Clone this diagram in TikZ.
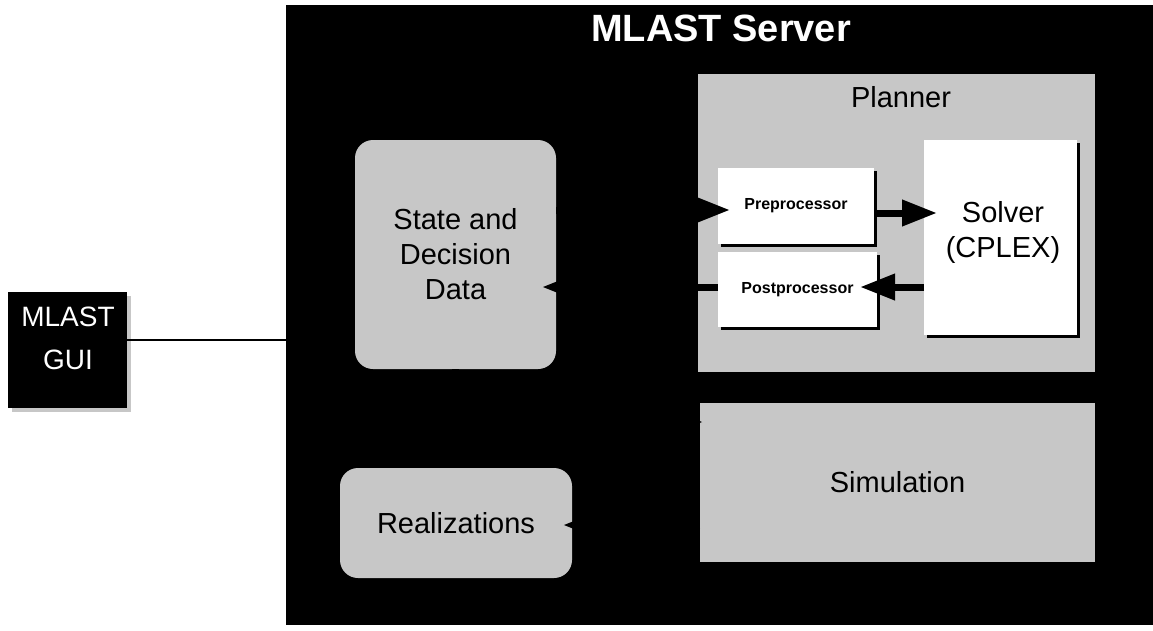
\documentclass[tikz,border=0pt]{standalone}
\usepackage{fontspec}
\setmainfont{Liberation Sans}
\usetikzlibrary{arrows.meta,shadows}
\definecolor{stip}{gray}{0.78}
\begin{document}
\begin{tikzpicture}[x=1pt,y=-1pt,
  box/.style={inner sep=0pt, outer sep=0pt, align=center},
  graybox/.style={box, fill=stip},
  roundbox/.style={graybox, rounded corners=18pt},
  whitebox/.style={box, fill=white, drop shadow={fill=black, opacity=1, shadow xshift=3pt, shadow yshift=-3pt}},
  bigtext/.style={font=\fontsize{29}{35}\selectfont},
  smalltext/.style={font=\bfseries\fontsize{16}{19}\selectfont},
  flow/.style={line width=7pt, -{Triangle[length=35pt,width=25pt]}},
  guiline/.style={line width=2.5pt},
]
\useasboundingbox (0,0) rectangle (1153,630);
\fill[white] (0,0) rectangle (1153,630);

% server background
\node[box, fill=black, minimum width=867pt, minimum height=620pt, anchor=north west] (server) at (286,5) {};
\node[box, text=white, font=\bfseries\fontsize{38}{45}\selectfont] (title) at (721,28) {MLAST Server};

% GUI
\node[box, fill=black, minimum width=119pt, minimum height=116pt,
      general shadow={fill=stip, shadow xshift=4pt, shadow yshift=-4pt}] (gui) at (67.5,350) {};
\node[box, text=white, font=\fontsize{28}{43}\selectfont] (guitext) at (68,338) {MLAST\\GUI};
\coordinate (g1) at ([yshift=10pt]gui.east);
\draw[guiline] (g1) -- (g1 -| server.west);

% Planner
\node[graybox, minimum width=397pt, minimum height=298pt] (planner) at (896.5,223) {};
\node[box, bigtext] (plannerlabel) at (901,97) {Planner};
\node[whitebox, smalltext, minimum width=156pt, minimum height=76pt] (pre) at (796,206) {Preprocessor};
\node[whitebox, smalltext, minimum width=159pt, minimum height=75pt] (post) at (797.5,289.5) {Postprocessor};
\node[whitebox, minimum width=153pt, minimum height=195pt] (solver) at (1000.5,237.5) {};
\node[box, bigtext] (solvertext) at (1003,232) {Solver\\(CPLEX)};

% Simulation
\node[graybox, bigtext, minimum width=395pt, minimum height=159pt] (sim) at (897.5,482.5) {Simulation};

% State and Decision Data
\node[roundbox, bigtext, minimum width=201pt, minimum height=229pt] (sdd) at (455.5,254.5) {State and\\Decision\\Data};

% Realizations
\node[roundbox, bigtext, minimum width=232pt, minimum height=110pt] (real) at (456,523) {Realizations};

% connectors
\coordinate (a1) at ([yshift=-4pt]pre.west);
\draw[flow, shorten >=-12pt] (a1 -| sdd.east) -- (a1);
\coordinate (a2) at ([yshift=-7pt]pre.east);
\draw[flow, shorten >=-13pt] (a2) -- (a2 -| solver.west);
\coordinate (a3) at ([yshift=2.5pt]post.east);
\draw[flow, shorten >=-17pt] (a3 -| solver.west) -- (a3);
\coordinate (a4) at ([yshift=2.5pt]post.west);
\draw[flow, shorten >=-14pt] (a4) -- (a4 -| sdd.east);
\coordinate (a5) at ([yshift=-2pt]real.east);
\draw[flow, shorten >=-9pt] (a5 -| sim.west) -- (a5);
\coordinate (a6) at ([yshift=-19pt]sim.north west);
\draw[flow, shorten >=-3pt] (sdd.south) |- (a6);
\end{tikzpicture}
\end{document}
